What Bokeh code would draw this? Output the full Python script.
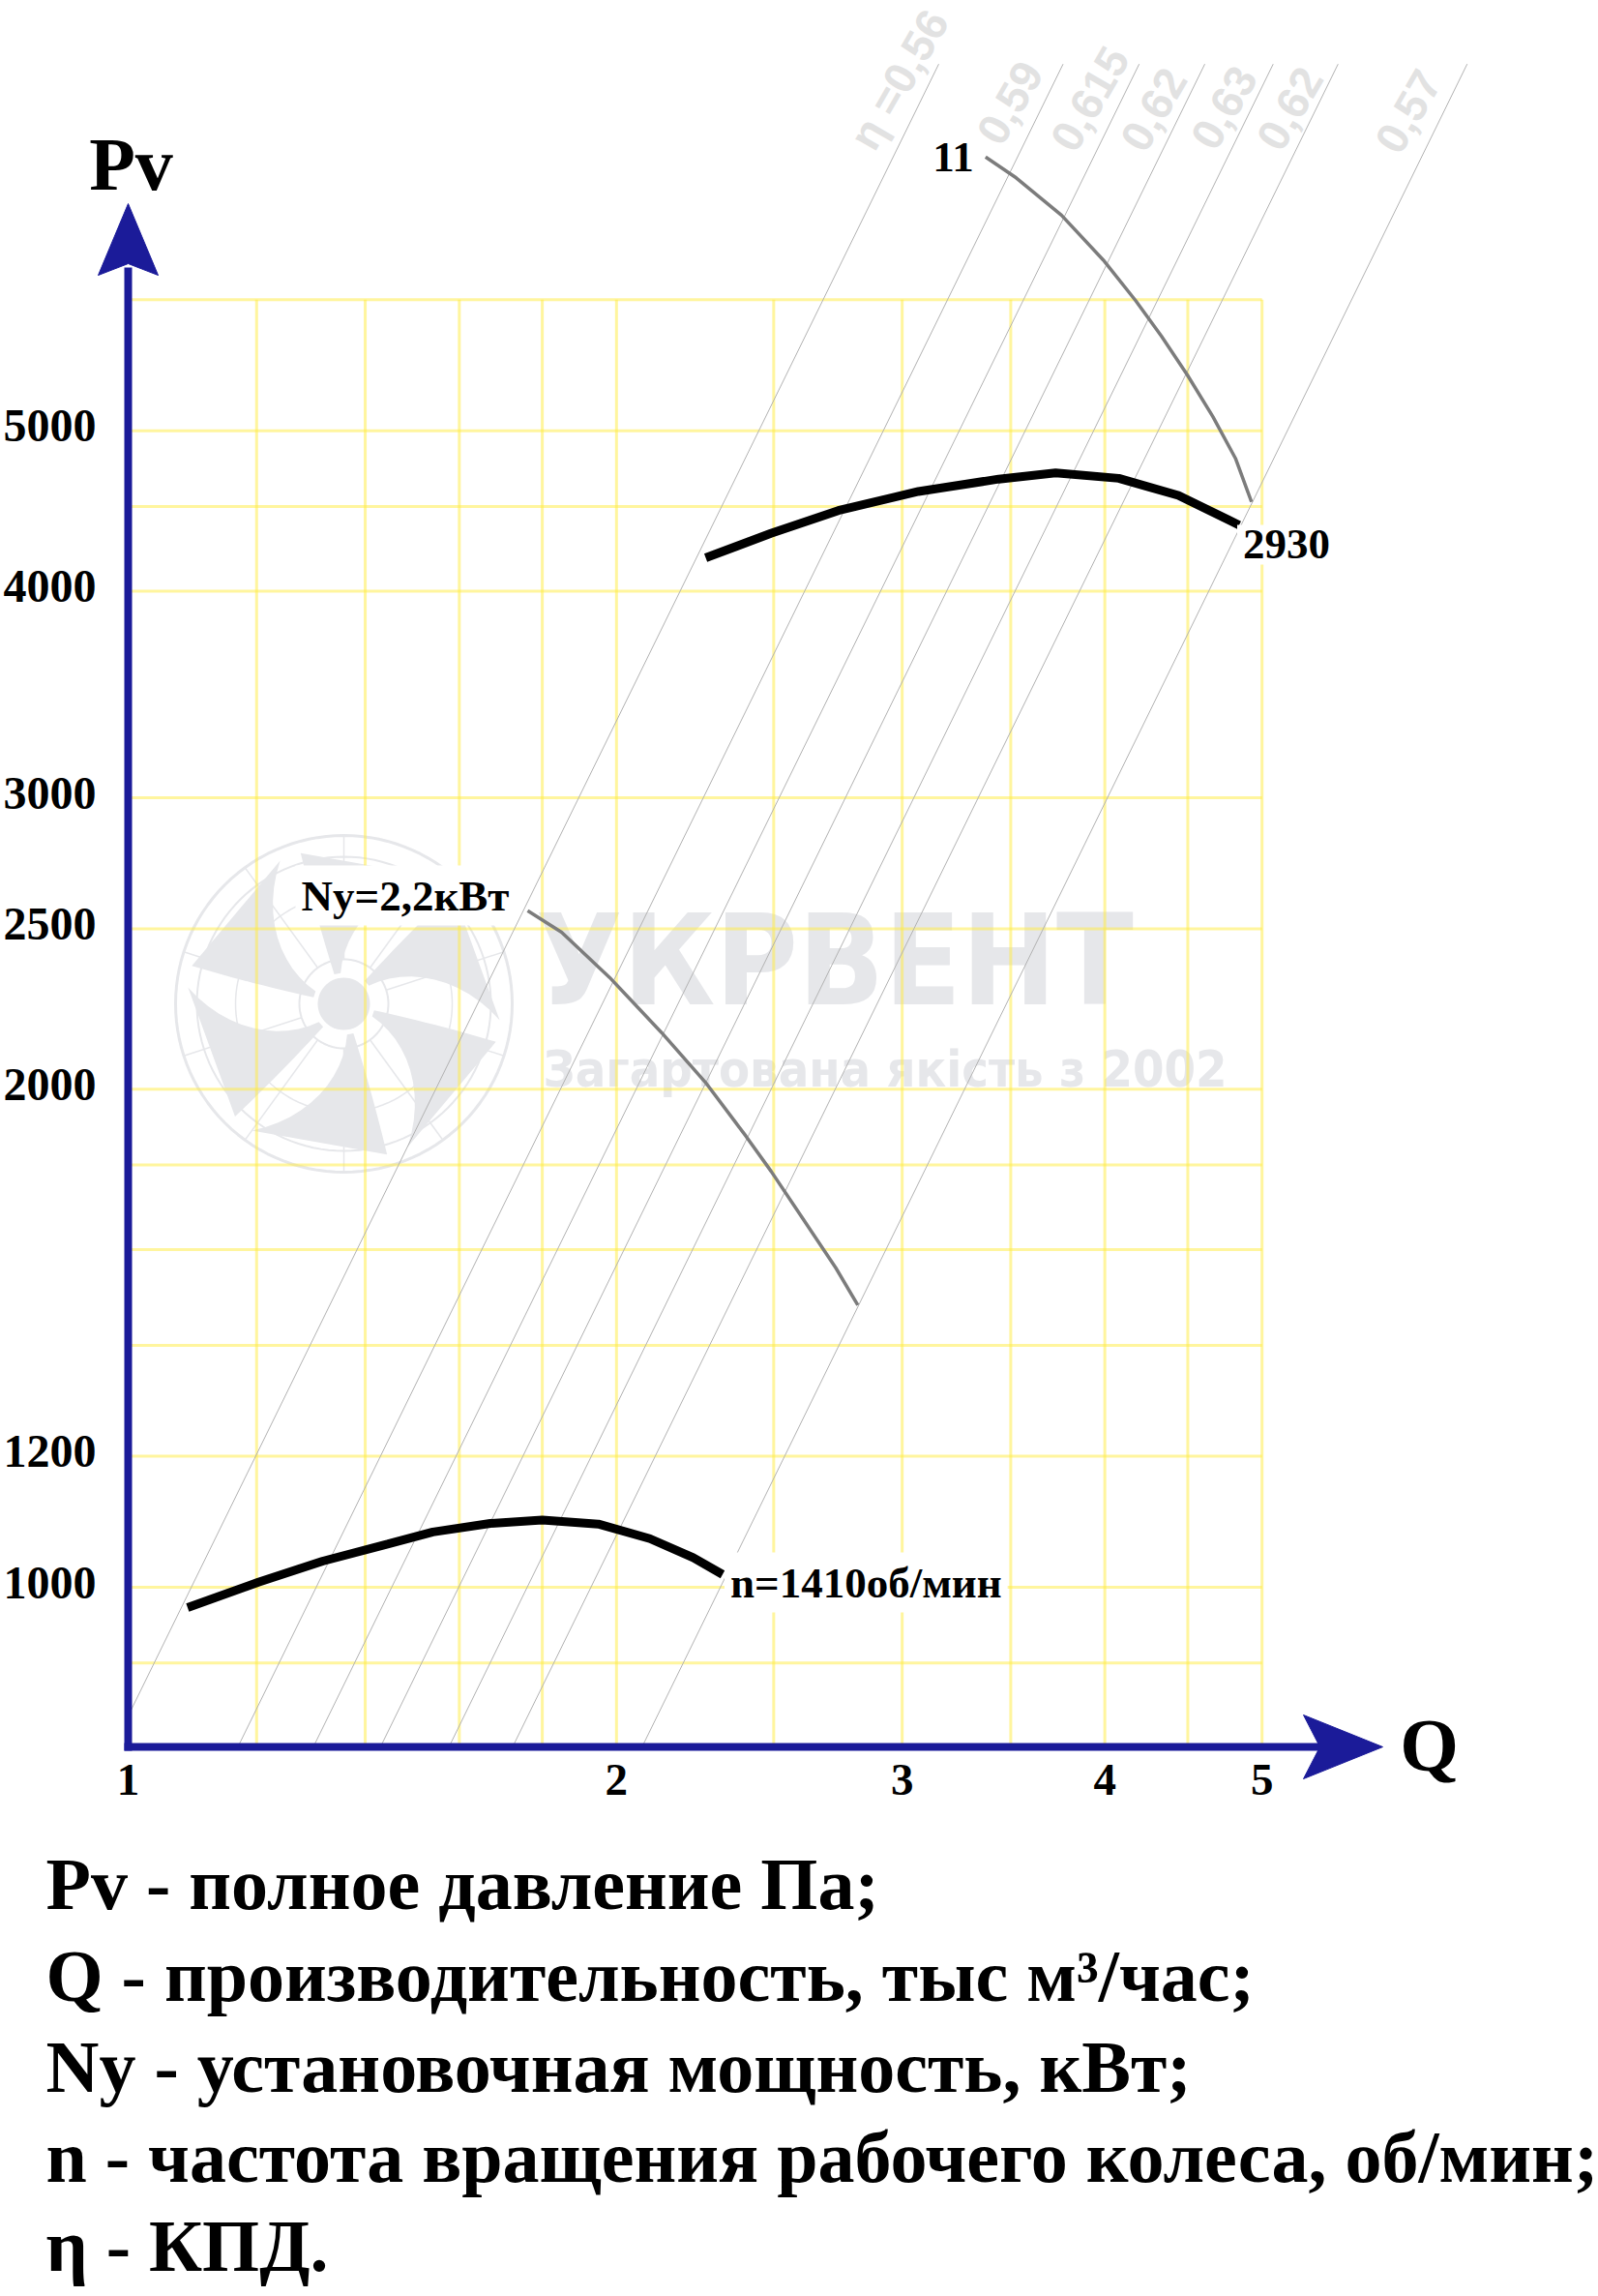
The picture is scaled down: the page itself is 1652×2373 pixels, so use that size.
import math
from bokeh.plotting import figure
from bokeh.models import Range1d
from bokeh.core.properties import value
from bokeh.embed import file_html
from bokeh.resources import INLINE

# ---------------- data ----------------
# fan characteristic, n = 2930 rpm
q_2930 = [2.27, 2.49, 2.74, 3.07, 3.44, 3.73, 4.08, 4.44, 4.84]
p_2930 = [4190, 4335, 4475, 4595, 4675, 4715, 4680, 4570, 4385]
# fan characteristic, n = 1410 rpm
q_1410 = [1.088, 1.203, 1.318, 1.445, 1.541, 1.672, 1.800, 1.949, 2.097, 2.230, 2.325]
p_1410 = [972, 1007, 1037, 1062, 1080, 1093, 1098, 1092, 1070, 1042, 1018]
# installed power boundary, Ny = 2.2 kW
q_ny22 = [1.763, 1.850, 1.981, 2.132, 2.273, 2.402, 2.491, 2.608, 2.730, 2.817]
p_ny22 = [2564, 2488, 2336, 2164, 2015, 1875, 1784, 1668, 1560, 1481]
# installed power boundary, Ny = 11 kW
q_ny11 = [3.377, 3.527, 3.761, 3.991, 4.178, 4.334, 4.496, 4.663, 4.815, 4.926]
p_ny11 = [7320, 7110, 6750, 6342, 5995, 5705, 5406, 5100, 4812, 4529]
# efficiency (system) lines: start / end points
eta_labels = ["η =0,56", "0,59", "0,615", "0,62", "0,63", "0,62", "0,57"]
eta_q_start = [1.0, 1.168, 1.30, 1.43, 1.576, 1.725, 2.073]
eta_p_start = [836, 800, 800, 800, 800, 800, 800]
eta_q_end = [3.16, 3.77, 4.20, 4.61, 5.08, 5.57, 6.69]
eta_p_end = [8330, 8330, 8330, 8330, 8330, 8330, 8330]
# axes
x_ticks = [1, 2, 3, 4, 5]
y_ticks = [1000, 1200, 2000, 2500, 3000, 4000, 5000]
x_grid = [1.2, 1.4, 1.6, 1.8, 2, 2.5, 3, 3.5, 4, 4.5, 5]
y_grid = [900, 1000, 1200, 1400, 1600, 1800, 2000, 2500, 3000, 4000, 4500, 5000, 6000]
q_min, q_max = 1, 5
p_min, p_max = 800, 6000
desc_lines = [
    "Pv - полное давление Па;",
    "Q - производительность, тыс м³/час;",
    "Ny - установочная мощность, кВт;",
    "n - частота вращения рабочего колеса, об/мин;",
    "η - КПД.",
]

# ---------------- layout ----------------
W, H = 1652, 2373
X_ONE, X_DEC = 132, 1677      # page pixel of Q = 1, pixels per decade
Y_THOU, Y_DEC = 1640, 1710    # page pixel of Pv = 1000, pixels per decade
BL = 0.35                     # alphabetic baseline correction (em)


def qx(px):
    return 10 ** ((px - X_ONE) / X_DEC)


def py(px):
    return 10 ** (3 + (Y_THOU - px) / Y_DEC)


def to_data(xs, ys):
    return [qx(x) for x in xs], [py(y) for y in ys]


def fix(size, dy=0):
    return dy - BL * size


SERIF = value("Liberation Serif")
SANS = value("Liberation Sans")
COND = value("DejaVu Sans Condensed")
BLUE = "#1b1b99"
WM = "#e6e7ea"
GRID = "#ffec3d"

p = figure(width=W, height=H, x_axis_type="log", y_axis_type="log",
           x_range=Range1d(qx(0), qx(W)),
           y_range=Range1d(py(H), py(0)),
           x_axis_location=None, y_axis_location=None,
           output_backend="svg", toolbar_location=None, min_border=0,
           title=None)
p.grid.visible = False
p.outline_line_color = None
p.background_fill_color = "white"
p.border_fill_color = "white"

# ---------------- watermark ----------------
cx, cy = 355, 1037
for r, lw in [(174, 3), (152, 2), (112, 1.5), (46, 2)]:
    n = 120
    xs = [cx + r * math.cos(2 * math.pi * k / n) for k in range(n + 1)]
    ys = [cy - r * math.sin(2 * math.pi * k / n) for k in range(n + 1)]
    dx, dy = to_data(xs, ys)
    p.line(dx, dy, line_color=WM, line_width=lw)
for k in range(10):
    a = math.radians(18 + 36 * k)
    xs = [cx + 46 * math.cos(a), cx + 174 * math.cos(a)]
    ys = [cy - 46 * math.sin(a), cy - 174 * math.sin(a)]
    dx, dy = to_data(xs, ys)
    p.line(dx, dy, line_color=WM, line_width=1.5)
blade_x, blade_y = [], []
for b in range(6):
    a0 = math.radians(42 + 60 * b)
    lead, trail = [], []
    for i in range(13):
        t = i / 12
        r = 32 + 130 * t
        th = a0 - math.radians(22) * t
        w = math.radians(6 + 20 * t)
        lead.append((cx + r * math.cos(th + w), cy - r * math.sin(th + w)))
        trail.append((cx + r * math.cos(th - w), cy - r * math.sin(th - w)))
    pts = lead + trail[::-1]
    dx, dy = to_data([u for u, _ in pts], [v for _, v in pts])
    blade_x.append(dx)
    blade_y.append(dy)
p.patches(blade_x, blade_y, fill_color=WM, line_color=None)
hx, hy = to_data([cx + 27 * math.cos(2 * math.pi * k / 60) for k in range(61)],
                 [cy - 27 * math.sin(2 * math.pi * k / 60) for k in range(61)])
p.patch(hx, hy, fill_color=WM, line_color=None)

p.text(x=[qx(553)], y=[py(1038)], text=["УКРВЕНТ"], y_offset=fix(130),
       text_font=COND, text_font_style="bold", text_font_size="130px", text_color=WM,
       text_align="left", text_baseline="alphabetic")
p.text(x=[qx(561)], y=[py(1123)], text=["Загартована якість з 2002"], y_offset=fix(52),
       text_font=COND, text_font_style="bold", text_font_size="52px", text_color=WM,
       text_align="left", text_baseline="alphabetic")

# ---------------- grid ----------------
p.segment(x0=[q_min] * len(y_grid), y0=y_grid, x1=[q_max] * len(y_grid), y1=y_grid,
          line_color=GRID, line_alpha=0.5, line_width=3)
p.segment(x0=x_grid, y0=[p_min] * len(x_grid), x1=x_grid, y1=[p_max] * len(x_grid),
          line_color=GRID, line_alpha=0.5, line_width=3)

# ---------------- efficiency lines ----------------
p.segment(x0=eta_q_start, y0=eta_p_start, x1=eta_q_end, y1=eta_p_end,
          line_color="#b2b2b2", line_width=1)
eta_dx = [-41, -55, -51, -53, -51, -50, -61]
eta_dy = [16, 40, 36, 47, 45, 46, 49]
p.text(x=eta_q_end, y=eta_p_end, text=eta_labels, x_offset=eta_dx, y_offset=eta_dy,
       angle=math.radians(60), text_font=SANS, text_font_style="bold",
       text_font_size="46px", text_color="#e2e2e2",
       text_align="center", text_baseline="middle")

# ---------------- curves ----------------
p.line(q_ny22, p_ny22, line_color="#7c7c7c", line_width=3.5)
p.line(q_ny11, p_ny11, line_color="#7c7c7c", line_width=3.5)
p.line(q_1410, p_1410, line_color="black", line_width=9)
p.line(q_2930, p_2930, line_color="black", line_width=9)

LS = 45
lab = dict(text_font=SERIF, text_font_style="bold", text_font_size=f"{LS}px",
           text_color="black", text_baseline="alphabetic",
           background_fill_color="white", padding=6)
p.text(x=[q_ny22[0]], y=[p_ny22[0]], text=["Ny=2,2кВт"], x_offset=-13, y_offset=fix(LS, 0),
       text_align="right", **lab)
p.text(x=[q_ny11[0]], y=[p_ny11[0]], text=["11"], x_offset=-6, y_offset=fix(LS, 16),
       text_align="right", **lab)
p.text(x=[q_2930[-1]], y=[p_2930[-1]], text=["2930"], x_offset=-2, y_offset=fix(LS, 36),
       text_align="left", **lab)
p.text(x=[q_1410[-1]], y=[p_1410[-1]], text=["n=1410об/мин"], x_offset=2, y_offset=fix(LS, 24),
       text_align="left", **lab)

# ---------------- axes (arrows) ----------------
sx, sy = to_data([132, 132], [1809, 276])
p.line(sx, sy, line_color=BLUE, line_width=8)
sx, sy = to_data([128, 1366], [1805, 1805])
p.line(sx, sy, line_color=BLUE, line_width=8)
hx, hy = to_data([132, 101, 132, 163], [210, 284, 272, 284])
p.patch(hx, hy, fill_color=BLUE, line_color=BLUE, line_width=1)
hx, hy = to_data([1429, 1347, 1364, 1347], [1805, 1772, 1805, 1838])
p.patch(hx, hy, fill_color=BLUE, line_color=BLUE, line_width=1)

tick = dict(text_font=SERIF, text_font_style="bold", text_color="black",
            text_baseline="alphabetic")
p.text(x=[q_min] * len(y_ticks), y=y_ticks, text=[str(v) for v in y_ticks],
       x_offset=-33, y_offset=fix(48, 12), text_align="right", text_font_size="48px", **tick)
p.text(x=x_ticks, y=[p_min] * len(x_ticks), text=[str(v) for v in x_ticks],
       x_offset=0, y_offset=fix(47, 50), text_align="center", text_font_size="47px", **tick)
p.text(x=[qx(135)], y=[py(196)], text=["Pv"], y_offset=fix(78), text_align="center",
       text_font_size="78px", **tick)
p.text(x=[qx(1477)], y=[py(1830)], text=["Q"], y_offset=fix(78), text_align="center",
       text_font_size="78px", **tick)

# ---------------- legend text ----------------
base_px = [1973, 2068, 2162, 2255, 2347]
p.text(x=[qx(47)] * len(desc_lines), y=[py(b) for b in base_px], text=desc_lines,
       y_offset=fix(76), text_align="left", text_font_size="76px", **tick)

open("out.html", "w").write(file_html(p, INLINE))
